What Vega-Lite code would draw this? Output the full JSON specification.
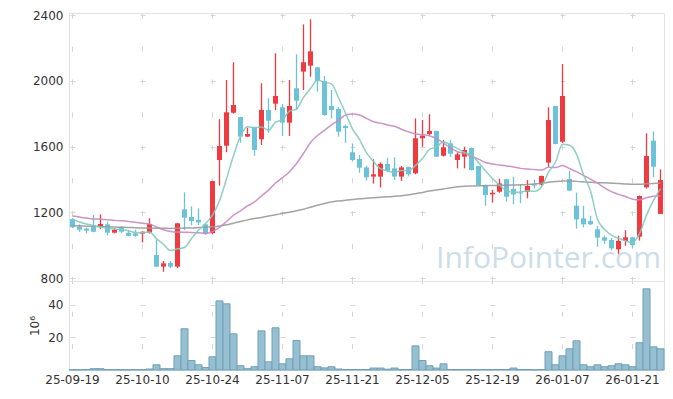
{
 "$schema": "https://vega.github.io/schema/vega-lite/v6.json",
 "padding": {"left": 28, "top": 8, "right": 9, "bottom": 0},
 "background": "white",
 "bounds": "flush",
 "config": {
  "view": {"stroke": "#e2e2e2"},
  "axis": {"labelFont": "DejaVu Sans", "labelFontSize": 12, "labelColor": "#333333", "ticks": false, "domainColor": "#e2e2e2", "gridColor": "#d4d4d4", "titleFont": "DejaVu Sans", "titleFontWeight": "normal", "titleColor": "#333333", "titleFontSize": 12},
  "concat": {"spacing": 0}
 },
 "datasets": {
  "d": [
   {"d":"25-09-19","o":1160,"h":1165,"l":1105,"c":1110,"v":0.2,"m5":1160,"m20":1178,"m60":1120},
   {"d":"25-09-22","o":1115,"h":1128,"l":1083,"c":1095,"v":0.2,"m5":1142,"m20":1172,"m60":1119},
   {"d":"25-09-23","o":1102,"h":1107,"l":1073,"c":1090,"v":0.3,"m5":1130,"m20":1166,"m60":1117},
   {"d":"25-09-24","o":1122,"h":1185,"l":1080,"c":1083,"v":0.8,"m5":1120,"m20":1161,"m60":1116},
   {"d":"25-09-25","o":1114,"h":1189,"l":1098,"c":1130,"v":0.8,"m5":1112,"m20":1159,"m60":1114},
   {"d":"25-09-26","o":1128,"h":1144,"l":1061,"c":1077,"v":0.2,"m5":1104,"m20":1156,"m60":1113},
   {"d":"25-09-29","o":1077,"h":1105,"l":1073,"c":1095,"v":0.2,"m5":1099,"m20":1152,"m60":1111},
   {"d":"25-09-30","o":1112,"h":1118,"l":1073,"c":1083,"v":0.2,"m5":1096,"m20":1149,"m60":1110},
   {"d":"25-10-01","o":1077,"h":1090,"l":1055,"c":1058,"v":0.2,"m5":1089,"m20":1145,"m60":1109},
   {"d":"25-10-02","o":1073,"h":1095,"l":1052,"c":1058,"v":0.2,"m5":1078,"m20":1140,"m60":1107},
   {"d":"25-10-10","o":1071,"h":1085,"l":1018,"c":1083,"v":0.2,"m5":1077,"m20":1135,"m60":1106},
   {"d":"25-10-13","o":1078,"h":1165,"l":1072,"c":1130,"v":0.6,"m5":1082,"m20":1130,"m60":1105},
   {"d":"25-10-14","o":942,"h":1037,"l":868,"c":871,"v":3.2,"m5":1040,"m20":1112,"m60":1104},
   {"d":"25-10-15","o":871,"h":905,"l":840,"c":891,"v":0.8,"m5":1007,"m20":1095,"m60":1104},
   {"d":"25-10-16","o":893,"h":905,"l":862,"c":871,"v":0.8,"m5":969,"m20":1085,"m60":1103},
   {"d":"25-10-17","o":871,"h":1136,"l":862,"c":1134,"v":8.7,"m5":979,"m20":1081,"m60":1104},
   {"d":"25-10-20","o":1219,"h":1322,"l":1094,"c":1168,"v":25.3,"m5":987,"m20":1080,"m60":1105},
   {"d":"25-10-21","o":1173,"h":1237,"l":1122,"c":1148,"v":5.8,"m5":1042,"m20":1079,"m60":1106},
   {"d":"25-10-22","o":1155,"h":1225,"l":1123,"c":1140,"v":3.2,"m5":1092,"m20":1077,"m60":1108},
   {"d":"25-10-23","o":1128,"h":1134,"l":1065,"c":1074,"v":1.5,"m5":1133,"m20":1073,"m60":1110},
   {"d":"25-10-24","o":1074,"h":1393,"l":1068,"c":1391,"v":8.1,"m5":1184,"m20":1084,"m60":1113},
   {"d":"25-10-27","o":1519,"h":1767,"l":1363,"c":1604,"v":42.4,"m5":1271,"m20":1109,"m60":1118},
   {"d":"25-10-28","o":1606,"h":2005,"l":1566,"c":1809,"v":40.6,"m5":1404,"m20":1145,"m60":1125},
   {"d":"25-10-29","o":1806,"h":2113,"l":1800,"c":1853,"v":22.2,"m5":1546,"m20":1183,"m60":1135},
   {"d":"25-10-30","o":1780,"h":1782,"l":1624,"c":1661,"v":2.6,"m5":1664,"m20":1210,"m60":1145},
   {"d":"25-10-31","o":1661,"h":1715,"l":1660,"c":1677,"v":0.8,"m5":1721,"m20":1240,"m60":1155},
   {"d":"25-11-03","o":1718,"h":1720,"l":1545,"c":1580,"v":2.0,"m5":1716,"m20":1264,"m60":1163},
   {"d":"25-11-04","o":1645,"h":1985,"l":1610,"c":1823,"v":24.0,"m5":1719,"m20":1301,"m60":1170},
   {"d":"25-11-05","o":1823,"h":1894,"l":1685,"c":1758,"v":5.0,"m5":1700,"m20":1336,"m60":1178},
   {"d":"25-11-06","o":1861,"h":2167,"l":1823,"c":1908,"v":25.9,"m5":1749,"m20":1379,"m60":1186},
   {"d":"25-11-07","o":1839,"h":1860,"l":1665,"c":1746,"v":3.8,"m5":1763,"m20":1412,"m60":1194},
   {"d":"25-11-10","o":1746,"h":2005,"l":1665,"c":1847,"v":6.9,"m5":1816,"m20":1448,"m60":1202},
   {"d":"25-11-11","o":1955,"h":2161,"l":1823,"c":1879,"v":18.1,"m5":1828,"m20":1498,"m60":1210},
   {"d":"25-11-12","o":2056,"h":2343,"l":1944,"c":2113,"v":8.7,"m5":1899,"m20":1559,"m60":1220},
   {"d":"25-11-13","o":2092,"h":2374,"l":2025,"c":2179,"v":8.7,"m5":1953,"m20":1625,"m60":1232},
   {"d":"25-11-14","o":2082,"h":2085,"l":1934,"c":1999,"v":2.0,"m5":2003,"m20":1668,"m60":1244},
   {"d":"25-11-17","o":1999,"h":2030,"l":1788,"c":1792,"v":1.3,"m5":1992,"m20":1699,"m60":1255},
   {"d":"25-11-18","o":1847,"h":1944,"l":1772,"c":1823,"v":2.0,"m5":1981,"m20":1733,"m60":1264},
   {"d":"25-11-19","o":1829,"h":1840,"l":1661,"c":1691,"v":0.6,"m5":1897,"m20":1760,"m60":1270},
   {"d":"25-11-20","o":1726,"h":1735,"l":1624,"c":1713,"v":0.3,"m5":1804,"m20":1792,"m60":1275},
   {"d":"25-11-21","o":1566,"h":1620,"l":1510,"c":1519,"v":0.3,"m5":1708,"m20":1799,"m60":1279},
   {"d":"25-11-24","o":1525,"h":1549,"l":1442,"c":1472,"v":0.3,"m5":1644,"m20":1792,"m60":1283},
   {"d":"25-11-25","o":1474,"h":1483,"l":1393,"c":1414,"v":0.3,"m5":1562,"m20":1772,"m60":1286},
   {"d":"25-11-26","o":1418,"h":1523,"l":1375,"c":1432,"v":1.2,"m5":1510,"m20":1751,"m60":1289},
   {"d":"25-11-27","o":1418,"h":1505,"l":1352,"c":1495,"v":1.2,"m5":1466,"m20":1743,"m60":1292},
   {"d":"25-11-28","o":1495,"h":1532,"l":1445,"c":1454,"v":0.5,"m5":1453,"m20":1732,"m60":1295},
   {"d":"25-12-01","o":1468,"h":1535,"l":1397,"c":1418,"v":1.2,"m5":1443,"m20":1724,"m60":1298},
   {"d":"25-12-02","o":1418,"h":1482,"l":1392,"c":1474,"v":0.3,"m5":1455,"m20":1706,"m60":1302},
   {"d":"25-12-03","o":1476,"h":1480,"l":1420,"c":1432,"v":0.3,"m5":1455,"m20":1690,"m60":1308},
   {"d":"25-12-04","o":1438,"h":1772,"l":1432,"c":1651,"v":14.8,"m5":1486,"m20":1677,"m60":1314},
   {"d":"25-12-05","o":1651,"h":1762,"l":1600,"c":1667,"v":5.8,"m5":1528,"m20":1673,"m60":1322},
   {"d":"25-12-08","o":1677,"h":1797,"l":1670,"c":1695,"v":2.6,"m5":1584,"m20":1666,"m60":1330},
   {"d":"25-12-09","o":1695,"h":1697,"l":1537,"c":1539,"v":1.2,"m5":1597,"m20":1649,"m60":1337},
   {"d":"25-12-10","o":1545,"h":1640,"l":1540,"c":1596,"v":3.8,"m5":1630,"m20":1623,"m60":1343},
   {"d":"25-12-11","o":1620,"h":1640,"l":1538,"c":1557,"v":0.3,"m5":1611,"m20":1592,"m60":1350},
   {"d":"25-12-12","o":1519,"h":1565,"l":1468,"c":1553,"v":0.3,"m5":1588,"m20":1569,"m60":1356},
   {"d":"25-12-15","o":1539,"h":1600,"l":1468,"c":1580,"v":0.3,"m5":1565,"m20":1559,"m60":1360},
   {"d":"25-12-16","o":1592,"h":1595,"l":1455,"c":1458,"v":0.3,"m5":1549,"m20":1541,"m60":1361},
   {"d":"25-12-17","o":1482,"h":1484,"l":1365,"c":1367,"v":0.3,"m5":1503,"m20":1524,"m60":1362},
   {"d":"25-12-18","o":1367,"h":1370,"l":1241,"c":1306,"v":0.3,"m5":1453,"m20":1504,"m60":1363},
   {"d":"25-12-19","o":1310,"h":1338,"l":1260,"c":1320,"v":0.3,"m5":1406,"m20":1494,"m60":1364},
   {"d":"25-12-22","o":1326,"h":1405,"l":1320,"c":1377,"v":0.3,"m5":1366,"m20":1489,"m60":1365},
   {"d":"25-12-23","o":1402,"h":1405,"l":1266,"c":1296,"v":0.3,"m5":1333,"m20":1483,"m60":1366},
   {"d":"25-12-24","o":1343,"h":1417,"l":1250,"c":1310,"v":1.2,"m5":1322,"m20":1477,"m60":1367},
   {"d":"25-12-26","o":1320,"h":1372,"l":1256,"c":1316,"v":0.3,"m5":1324,"m20":1468,"m60":1368},
   {"d":"25-12-29","o":1326,"h":1397,"l":1286,"c":1361,"v":0.3,"m5":1332,"m20":1464,"m60":1370},
   {"d":"25-12-30","o":1370,"h":1400,"l":1345,"c":1364,"v":0.1,"m5":1329,"m20":1461,"m60":1373},
   {"d":"26-01-02","o":1370,"h":1424,"l":1365,"c":1422,"v":0.3,"m5":1355,"m20":1458,"m60":1377},
   {"d":"26-01-05","o":1503,"h":1839,"l":1478,"c":1762,"v":11.2,"m5":1445,"m20":1475,"m60":1383},
   {"d":"26-01-06","o":1847,"h":1848,"l":1614,"c":1616,"v":3.2,"m5":1505,"m20":1473,"m60":1388},
   {"d":"26-01-07","o":1630,"h":2102,"l":1622,"c":1908,"v":8.7,"m5":1614,"m20":1485,"m60":1391},
   {"d":"26-01-08","o":1404,"h":1454,"l":1330,"c":1333,"v":13.0,"m5":1608,"m20":1467,"m60":1391},
   {"d":"26-01-09","o":1241,"h":1320,"l":1102,"c":1158,"v":17.9,"m5":1555,"m20":1448,"m60":1389},
   {"d":"26-01-12","o":1164,"h":1241,"l":1110,"c":1128,"v":3.2,"m5":1429,"m20":1425,"m60":1386},
   {"d":"26-01-13","o":1148,"h":1180,"l":1124,"c":1128,"v":2.0,"m5":1331,"m20":1403,"m60":1383},
   {"d":"26-01-14","o":1098,"h":1118,"l":992,"c":1047,"v":3.2,"m5":1159,"m20":1378,"m60":1381},
   {"d":"26-01-15","o":1049,"h":1060,"l":1009,"c":1029,"v":2.0,"m5":1098,"m20":1350,"m60":1380},
   {"d":"26-01-16","o":1033,"h":1045,"l":970,"c":982,"v":2.6,"m5":1063,"m20":1327,"m60":1378},
   {"d":"26-01-19","o":976,"h":1059,"l":946,"c":1027,"v":3.8,"m5":1043,"m20":1310,"m60":1376},
   {"d":"26-01-20","o":1027,"h":1092,"l":998,"c":1049,"v":3.2,"m5":1027,"m20":1297,"m60":1373},
   {"d":"26-01-21","o":1049,"h":1052,"l":985,"c":1002,"v":2.0,"m5":1018,"m20":1281,"m60":1371},
   {"d":"26-01-22","o":1053,"h":1303,"l":1029,"c":1300,"v":16.7,"m5":1072,"m20":1277,"m60":1372},
   {"d":"26-01-23","o":1353,"h":1681,"l":1345,"c":1543,"v":49.8,"m5":1184,"m20":1289,"m60":1374},
   {"d":"26-01-26","o":1636,"h":1692,"l":1414,"c":1478,"v":14.2,"m5":1274,"m20":1298,"m60":1376},
   {"d":"26-01-27","o":1191,"h":1462,"l":1190,"c":1397,"v":13.0,"m5":1344,"m20":1302,"m60":1378}
  ]
 },
 "vconcat": [
  {
   "width": 595,
   "height": 268,
   "data": {"name": "d"},
   "encoding": {
    "x": {"field": "d", "type": "ordinal", "sort": null,
     "scale": {"type": "band", "paddingInner": 0, "paddingOuter": 0},
     "axis": {"orient": "bottom", "labels": false, "domain": false, "title": null, "grid": true, "gridDash": [5, 27.91], "gridDashOffset": 32.71,
      "values": ["25-09-19","25-10-10","25-10-24","25-11-07","25-11-21","25-12-05","25-12-19","26-01-07","26-01-21"]}}
   },
   "layer": [
    {
     "mark": {"type": "rule", "strokeWidth": 1.3},
     "encoding": {
      "y": {"field": "l", "type": "quantitative",
       "scale": {"domain": [783.6, 2412.2], "nice": false, "zero": false},
       "axis": {"title": null, "format": "d", "values": [800,1000,1200,1400,1600,1800,2000,2200,2400], "grid": true, "gridDash": [5, 65], "gridDashOffset": 69, "labelPadding": 6}},
      "y2": {"field": "h"},
      "color": {"condition": {"test": "datum.c > datum.o", "value": "#ef3b40"}, "value": "#6cc2d9"}
     }
    },
    {
     "mark": {"type": "bar", "size": 5},
     "encoding": {
      "y": {"field": "o", "type": "quantitative"},
      "y2": {"field": "c"},
      "color": {"condition": {"test": "datum.c > datum.o", "value": "#ef3b40"}, "value": "#6cc2d9"}
     }
    },
    {
     "mark": {"type": "line", "color": "#999999", "strokeWidth": 1.5, "opacity": 0.9, "interpolate": "monotone"},
     "encoding": {"y": {"field": "m60", "type": "quantitative"}}
    },
    {
     "mark": {"type": "line", "color": "#c987c1", "strokeWidth": 1.5, "opacity": 0.9, "interpolate": "monotone"},
     "encoding": {"y": {"field": "m20", "type": "quantitative"}}
    },
    {
     "mark": {"type": "line", "color": "#83c9bf", "strokeWidth": 1.5, "opacity": 0.9, "interpolate": "monotone"},
     "encoding": {"y": {"field": "m5", "type": "quantitative"}}
    },
    {
     "transform": [{"filter": "datum.d == '26-01-05'"}],
     "mark": {"type": "text", "text": "InfoPointer.com", "font": "Open Sans", "fontSize": 30, "color": "#a9c8da", "opacity": 0.6, "align": "center", "baseline": "alphabetic"},
     "encoding": {"y": {"datum": 863, "type": "quantitative"}}
    }
   ]
  },
  {
   "width": 595,
   "height": 89,
   "data": {"name": "d"},
   "mark": {"type": "bar", "fill": "#96c0d2", "stroke": "#6f9fb6", "strokeWidth": 1},
   "encoding": {
    "x": {"field": "d", "type": "ordinal", "sort": null,
     "scale": {"type": "band", "paddingInner": 0, "paddingOuter": 0},
     "axis": {"title": null, "labelAngle": 0, "labelAlign": "center", "labelBaseline": "top", "labelPadding": 4, "grid": true, "gridDash": [5, 27.6], "gridDashOffset": 2.5,
      "values": ["25-09-19","25-10-10","25-10-24","25-11-07","25-11-21","25-12-05","25-12-19","26-01-07","26-01-21"]}},
    "y": {"field": "v", "type": "quantitative",
     "scale": {"domain": [0, 54.6], "nice": false},
     "axis": {"title": "10⁶", "values": [20, 40], "grid": true, "gridDash": [5, 65], "gridDashOffset": 69, "labelPadding": 6, "titlePadding": 6}}
   }
  }
 ]
}
